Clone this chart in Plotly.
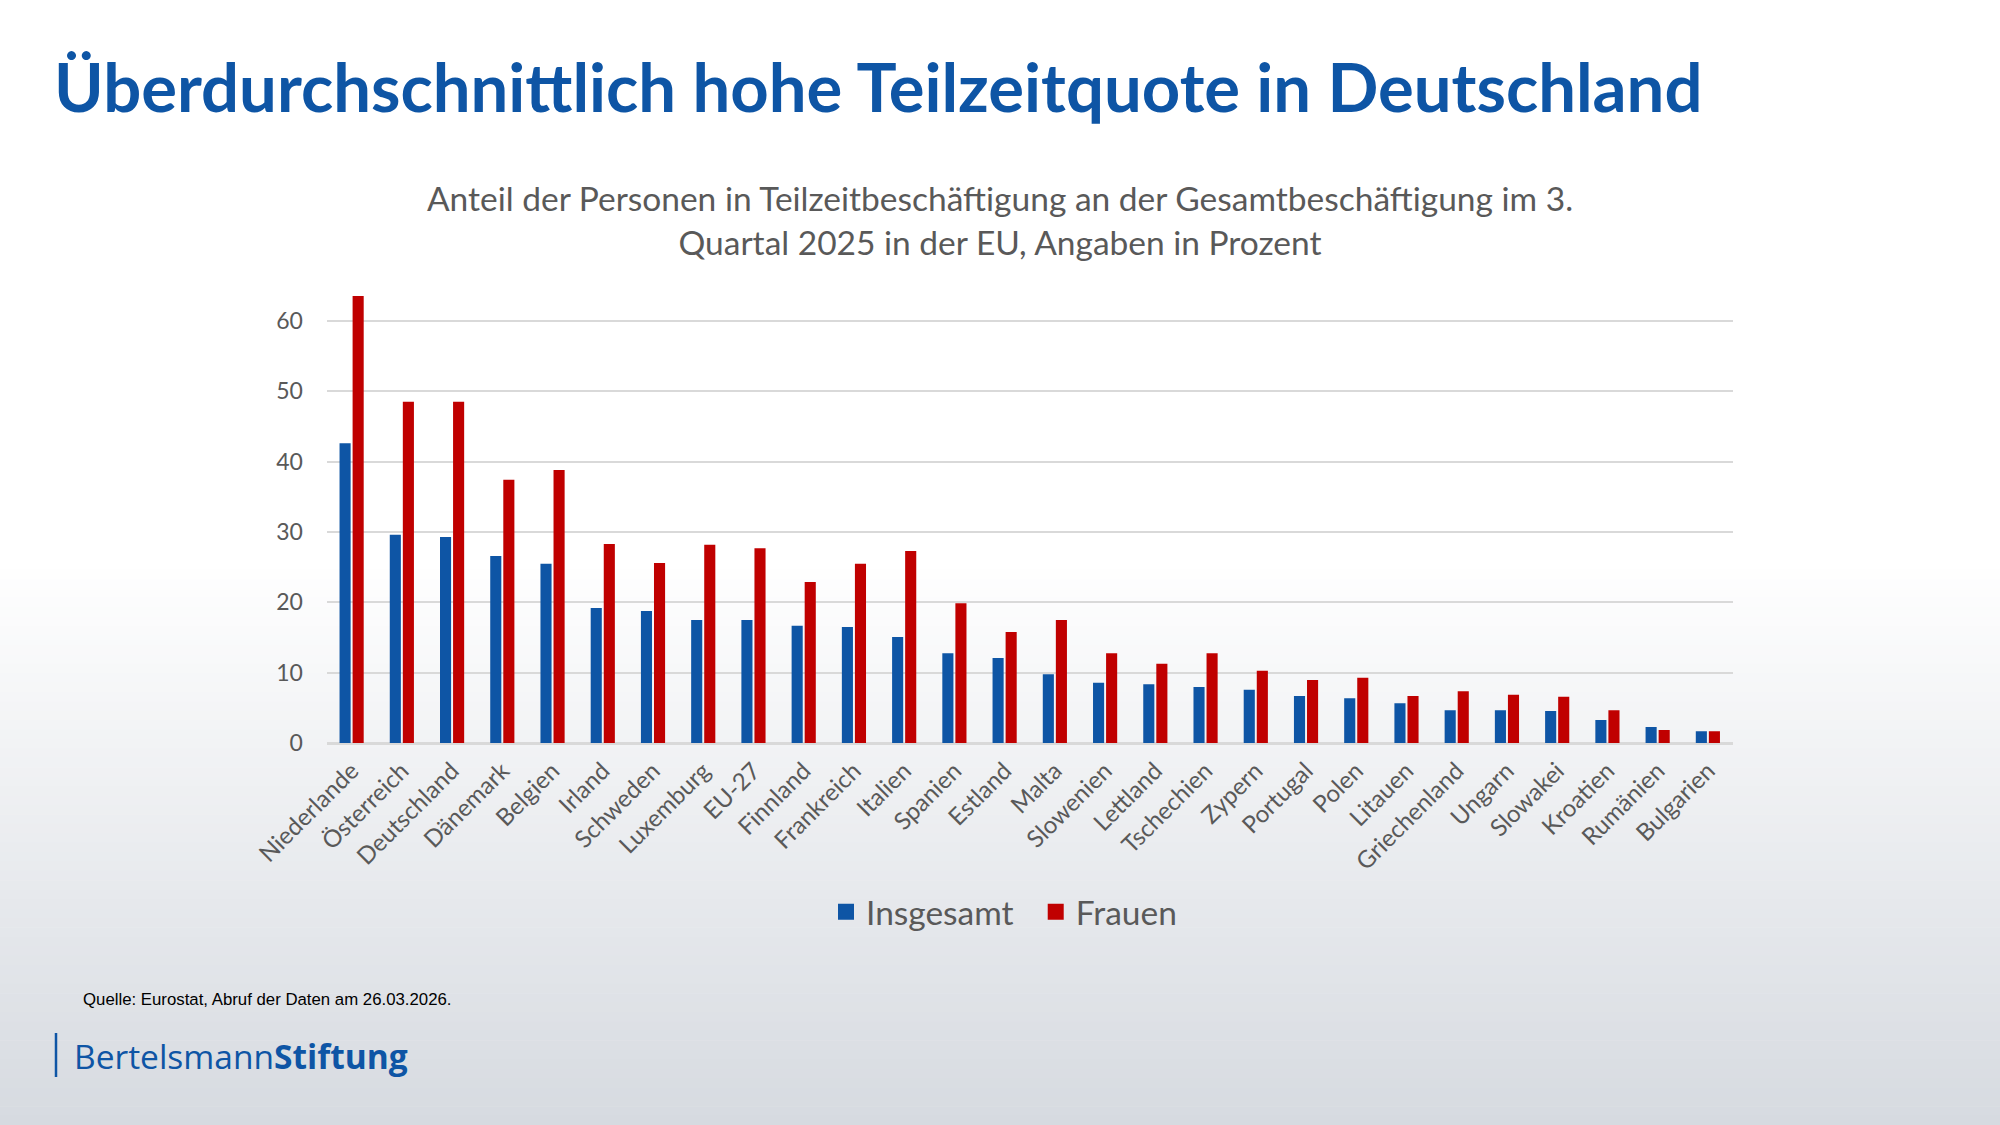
import plotly.graph_objects as go

countries = ["Niederlande", "Österreich", "Deutschland", "Dänemark", "Belgien", "Irland",
             "Schweden", "Luxemburg", "EU-27", "Finnland", "Frankreich", "Italien", "Spanien",
             "Estland", "Malta", "Slowenien", "Lettland", "Tschechien", "Zypern", "Portugal",
             "Polen", "Litauen", "Griechenland", "Ungarn", "Slowakei", "Kroatien", "Rumänien",
             "Bulgarien"]
insgesamt = [42.6, 29.6, 29.3, 26.6, 25.5, 19.2, 18.8, 17.5, 17.5, 16.7, 16.5, 15.1, 12.8,
             12.1, 9.8, 8.6, 8.4, 8.0, 7.6, 6.7, 6.4, 5.7, 4.7, 4.7, 4.6, 3.3, 2.3, 1.7]
frauen = [63.5, 48.5, 48.5, 37.4, 38.8, 28.3, 25.6, 28.2, 27.7, 22.9, 25.5, 27.3, 19.9,
          15.8, 17.5, 12.8, 11.3, 12.8, 10.3, 9.0, 9.3, 6.7, 7.4, 6.9, 6.6, 4.7, 1.9, 1.7]
y_ticks = [0, 10, 20, 30, 40, 50, 60]
series_names = ["Insgesamt", "Frauen"]

BLUE = "#0E55A5"
RED = "#C00000"
GRAY = "#595959"
W, H = 2000, 1125

fig = go.Figure()
fig.add_trace(go.Bar(name=series_names[0], x=countries, y=insgesamt, marker_color=BLUE,
                     marker_line_width=0, showlegend=False))
fig.add_trace(go.Bar(name=series_names[1], x=countries, y=frauen, marker_color=RED,
                     marker_line_width=0, showlegend=False))
# legend entries with larger square swatches
for nm, col, pad in ((series_names[0], BLUE, "\u00a0\u00a0"), (series_names[1], RED, "")):
    fig.add_trace(go.Scatter(name=nm + pad, x=[None], y=[None], mode="markers",
                             marker=dict(symbol="square", size=18, color=col),
                             showlegend=True, hoverinfo="skip"))

# background gradient (white -> light grey)
shapes = []
g_start, g_end = 560, 1125
top_c = (255, 255, 255)
bot_c = (214, 218, 224)
n = 60
shapes.append(dict(type="rect", xref="paper", yref="paper", x0=0, x1=1,
                   y0=1 - g_start / H, y1=1, fillcolor="#FFFFFF", line_width=0, layer="below"))
for i in range(n):
    ya = g_start + (g_end - g_start) * i / n
    yb = g_start + (g_end - g_start) * (i + 1) / n
    t = (i + 0.5) / n
    c = tuple(round(top_c[k] + (bot_c[k] - top_c[k]) * t) for k in range(3))
    shapes.append(dict(type="rect", xref="paper", yref="paper", x0=0, x1=1,
                       y0=max(0, 1 - yb / H - 0.0005), y1=1 - ya / H,
                       fillcolor="rgb(%d,%d,%d)" % c, line_width=0, layer="below"))
# logo bar
shapes.append(dict(type="line", xref="paper", yref="paper", x0=56 / W, x1=56 / W,
                   y0=1 - 1077 / H, y1=1 - 1033 / H, line=dict(color=BLUE, width=2.5)))

annotations = [
    dict(text="<b>Überdurchschnittlich hohe Teilzeitquote in Deutschland</b>",
         xref="paper", yref="paper", x=52 / W, y=1 - 86 / H, xanchor="left", yanchor="middle",
         showarrow=False, font=dict(family="Lato", size=67, color=BLUE)),
    dict(text="Anteil der Personen in Teilzeitbeschäftigung an der Gesamtbeschäftigung im 3.<br>"
              "Quartal 2025 in der EU, Angaben in Prozent",
         xref="paper", yref="paper", x=1000 / W, y=1 - 220 / H, xanchor="center",
         yanchor="middle", showarrow=False, align="center",
         font=dict(family="Lato", size=33.5, color=GRAY)),
    dict(text="Quelle: Eurostat, Abruf der Daten am 26.03.2026.",
         xref="paper", yref="paper", x=81 / W, y=1 - 999 / H, xanchor="left",
         yanchor="middle", showarrow=False,
         font=dict(family="Liberation Sans", size=16.8, color="#000000")),
    dict(text="Bertelsmann<b>Stiftung</b>",
         xref="paper", yref="paper", x=72 / W, y=1 - 1056 / H, xanchor="left",
         yanchor="middle", showarrow=False,
         font=dict(family="Open Sans", size=33.5, color=BLUE)),
]

fig.update_layout(
    width=W, height=H,
    margin=dict(l=0, r=0, t=0, b=0, autoexpand=False),
    paper_bgcolor="rgba(0,0,0,0)",
    plot_bgcolor="rgba(0,0,0,0)",
    barmode="group",
    bargap=0.48,
    bargroupgap=0.15,
    shapes=shapes,
    annotations=annotations,
    xaxis=dict(domain=[326.5 / W, 1733 / W], tickangle=-45, automargin=False,
               tickfont=dict(family="Lato", size=24, color=GRAY),
               showgrid=False, showline=True, linecolor="#D9D9D9", linewidth=2,
               ticks="outside", ticklen=2, tickcolor="rgba(0,0,0,0)"),
    yaxis=dict(domain=[1 - 743.3 / H, 1 - 292.5 / H], range=[0, 64], automargin=False,
               tickvals=y_ticks, ticktext=[str(v) for v in y_ticks],
               tickfont=dict(family="Lato", size=23, color=GRAY),
               showgrid=True, gridcolor="#D9D9D9", gridwidth=2,
               zeroline=True, zerolinecolor="#D9D9D9", zerolinewidth=2,
               ticks="outside", ticklen=18, tickcolor="rgba(0,0,0,0)"),
    legend=dict(orientation="h", x=1004 / W, y=1 - 912 / H, xanchor="center",
                yanchor="middle", font=dict(family="Lato", size=33.5, color=GRAY),
                bgcolor="rgba(0,0,0,0)", itemwidth=30, tracegroupgap=0),
    showlegend=True,
)

fig.write_html("out.html")
